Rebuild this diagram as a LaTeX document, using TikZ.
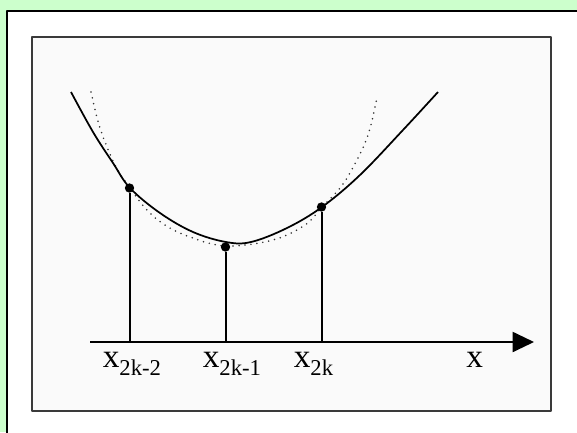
\documentclass[tikz,border=0pt]{standalone}
\usepackage{fontspec}
\setmainfont{Liberation Serif}
\usetikzlibrary{arrows.meta, positioning}
\definecolor{pagegreen}{HTML}{CCFFCC}
\definecolor{panelgrey}{HTML}{FAFAFA}
\definecolor{frameink}{HTML}{3A3A3A}
\definecolor{dotink}{HTML}{333333}
% main letter plus lowered index, sized like the scan
\newcommand{\xidx}[1]{{\fontsize{25}{25}\selectfont x}{\fontsize{17}{17}\selectfont\raisebox{-6pt}{#1}}}

\begin{document}
\begin{tikzpicture}[x=0.75pt, y=-0.75pt, line join=round,
    dot/.style={circle, fill=black, inner sep=0pt, minimum size=7pt},
    stem/.style={line width=1.5pt},
    lbl/.style={inner sep=0pt, anchor=base west}]
  % page: 1 unit = 1 pixel of the 577x432 scan, y downwards
  \useasboundingbox (0,0) rectangle (577,432);
  \fill[pagegreen] (0,0) rectangle (577,432);
  \clip (0,0) rectangle (577,432);
  \draw[fill=white, line width=1.6pt] (7,11) rectangle (600,460);
  \draw[fill=panelgrey, draw=frameink, line width=1.2pt] (32,37) rectangle (551,411);

  % abscissae of the three nodes
  \def\xa{129.5} \def\xb{225.5} \def\xc{321.5} \def\ya{342}

  % axis
  \coordinate (axstart) at (90,\ya);
  \coordinate (axend) at (534,\ya);
  \draw[line width=1.5pt, -{Triangle[length=16pt,width=15pt]}] (axstart) -- (axend);

  % interpolating parabola (dotted)
  \draw[dotink, line width=1.3pt, line cap=round, dash pattern=on 0pt off 4.5pt]
    plot[smooth, tension=0.6] coordinates {(91,92) (100,128) (115,165) (130,188)
      (147,210) (165,225) (190,237) (226,246) (273,240) (305,225) (322,207)
      (332,197) (347,178) (367,138) (377,97)};

  % function
  \draw[line width=1.3pt]
    plot[smooth, tension=0.6] coordinates {(71,92) (93,132) (113,163) (130,188)
      (160,213) (193,232) (226,242) (251,242) (287,228) (322,207) (360,175)
      (403,130) (438,92)};

  % nodes on the curve and their feet on the axis
  \node[dot] (p1) at (\xa,188) {};
  \node[dot] (p2) at (\xb,247) {};
  \node[dot] (p3) at (\xc,207) {};
  \coordinate (f1) at (\xa,\ya);
  \coordinate (f2) at (\xb,\ya);
  \coordinate (f3) at (\xc,\ya);
  \draw[stem] (p1) -- (f1);
  \draw[stem] (p2) -- (f2);
  \draw[stem] (p3) -- (f3);

  % labels
  \node[lbl] (l1) at (\xa-27,367) {\xidx{2k-2}};
  \node[lbl] (l2) at (\xb-23,367) {\xidx{2k-1}};
  \node[lbl] (l3) at (\xc-28,367) {\xidx{2k}};
  \node[lbl] (lx) at (466,367) {\fontsize{25}{25}\selectfont x};
\end{tikzpicture}
\end{document}
